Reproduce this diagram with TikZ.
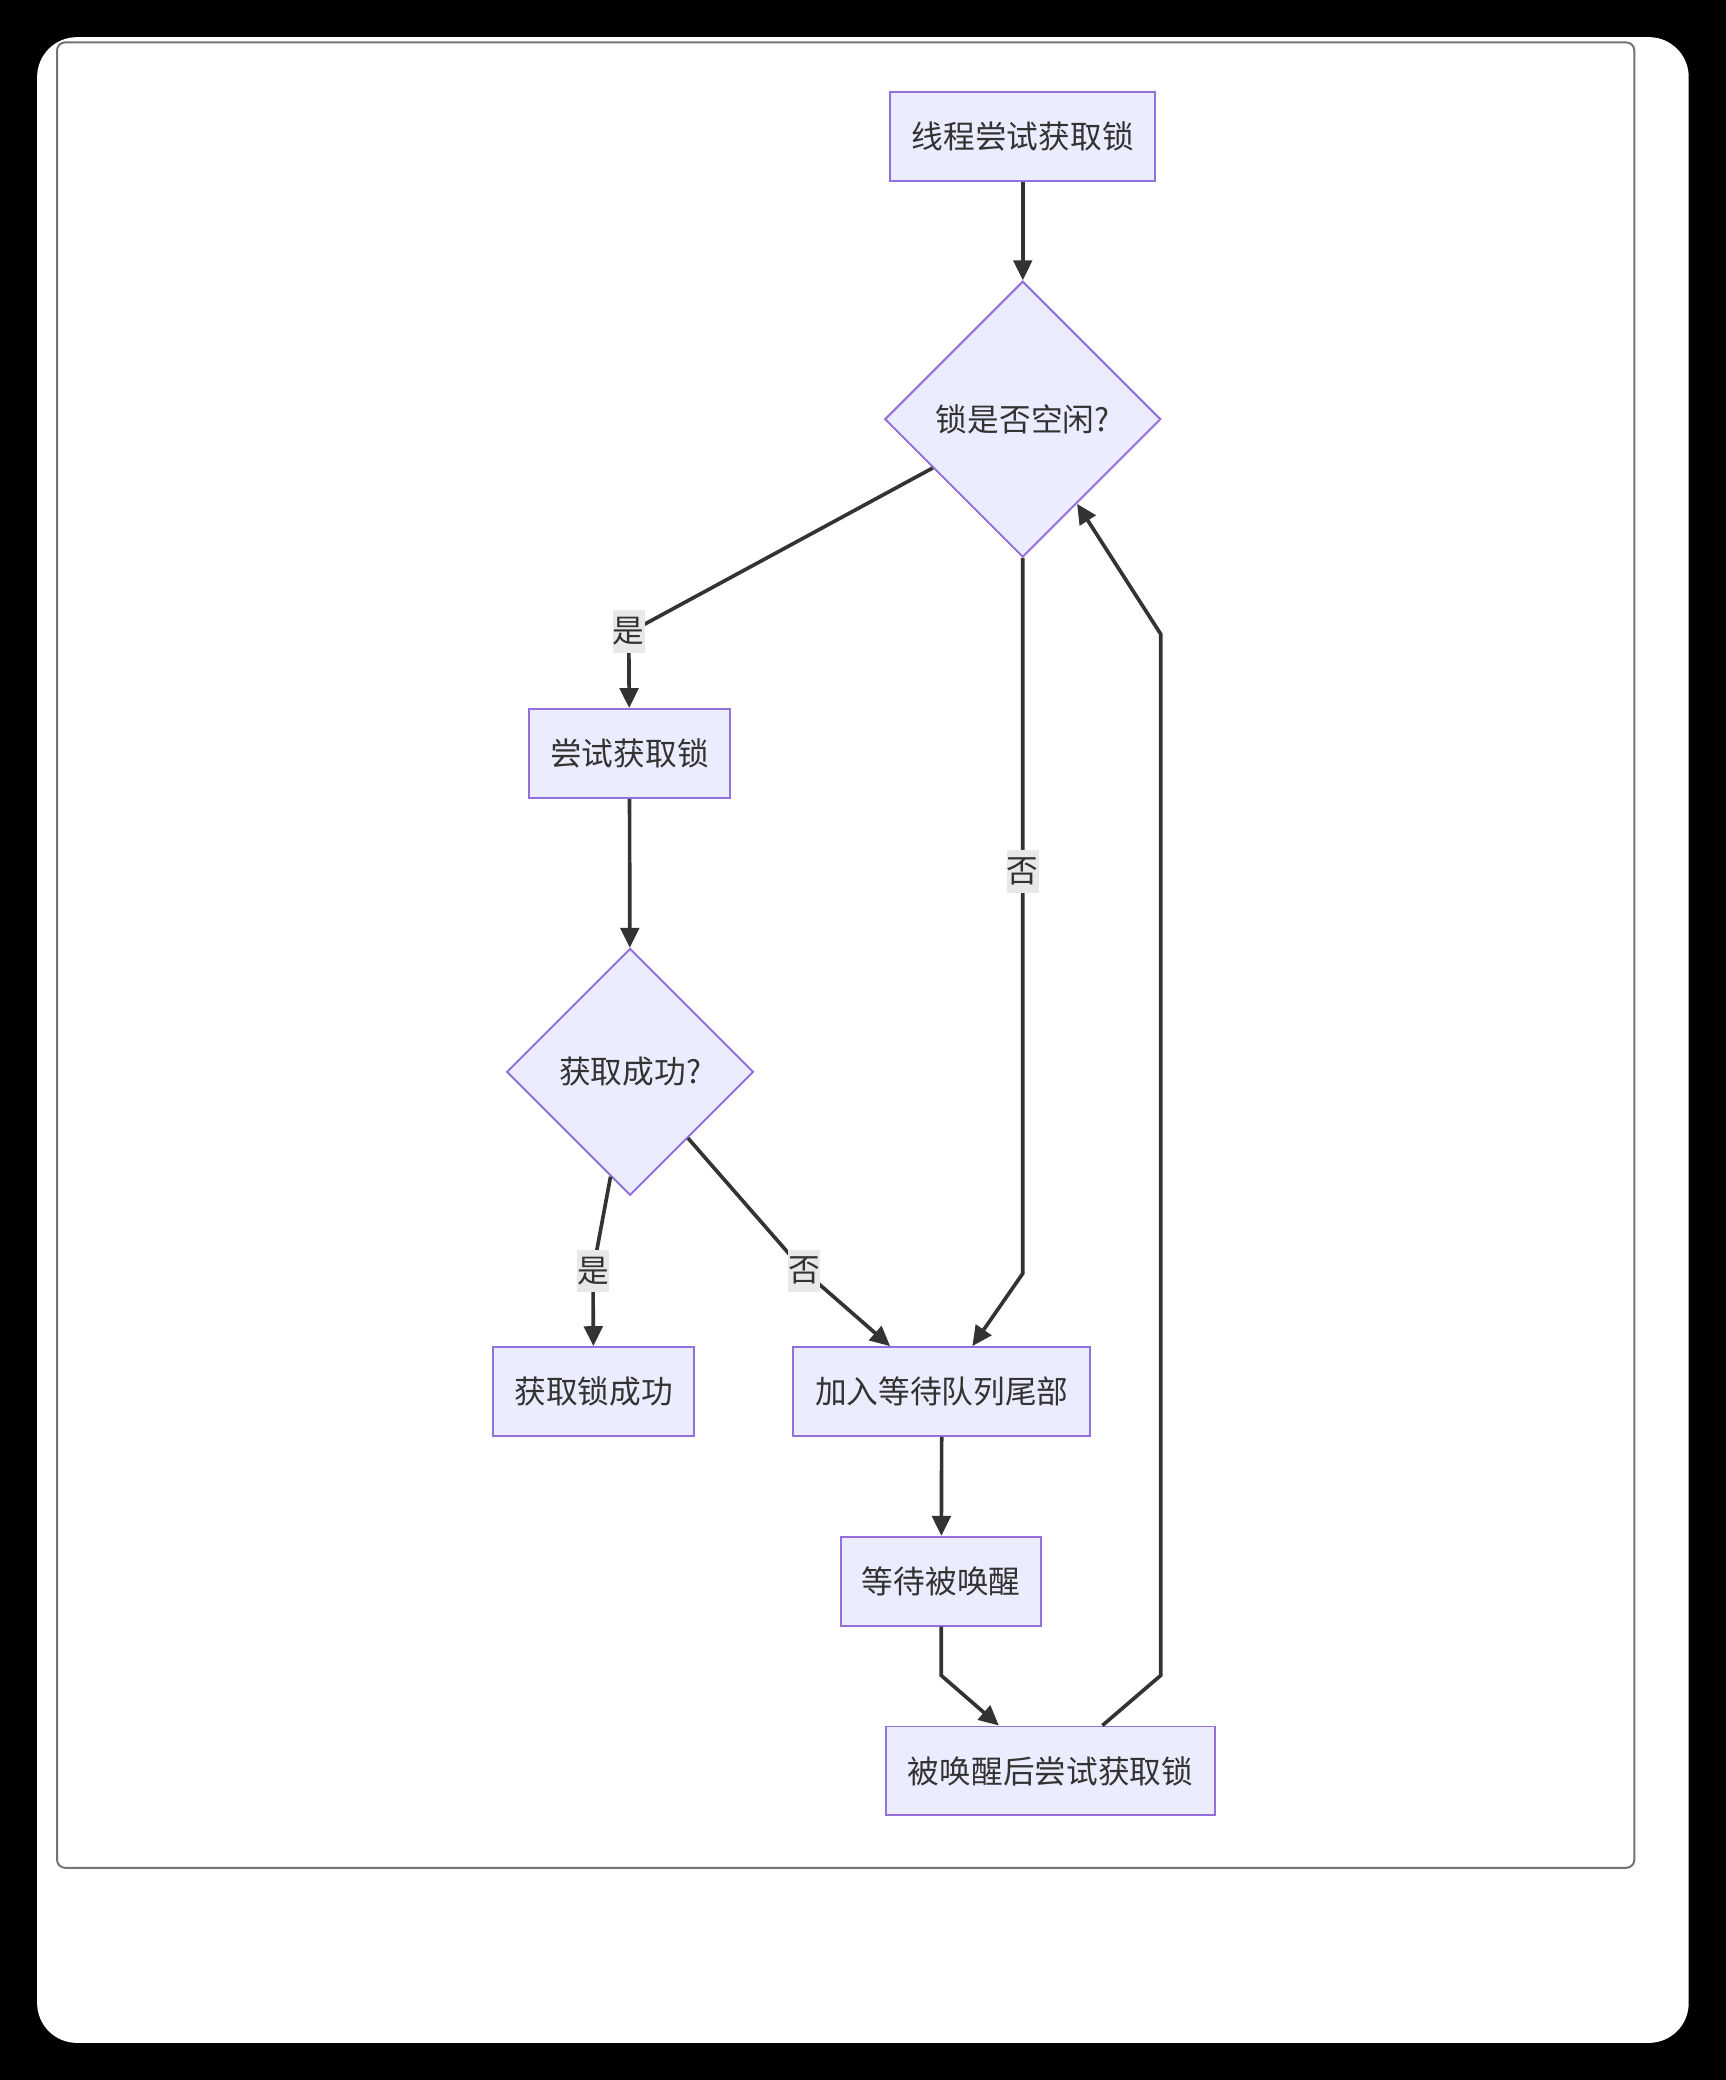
\documentclass[tikz,border=0pt]{standalone}
\usepackage{fontspec}
\newfontfamily\cjk{Noto Sans CJK SC}
\usetikzlibrary{arrows.meta,shapes.geometric}
\definecolor{boxfill}{HTML}{ECECFF}
\definecolor{boxline}{HTML}{9370DB}
\definecolor{edgeline}{HTML}{333333}
\definecolor{lblfill}{HTML}{E8E8E8}
\tikzset{
	box/.style={draw=boxline, fill=boxfill, line width=0.3mm, minimum height=13.4mm, inner sep=0pt, text=edgeline, font=\cjk\fontsize{13.6}{16}\selectfont},
	choice/.style={box, diamond, aspect=1},
	flow/.style={draw=edgeline, line width=0.55mm, -{Triangle[length=3mm,width=2.8mm]}},
	lbl/.style={fill=lblfill, inner xsep=0pt, inner ysep=0pt, minimum height=6.4mm, minimum width=4.8mm, text=edgeline, font=\cjk\fontsize{13.6}{16}\selectfont}
}
\def\edgelabel(#1)#2#3{\node[lbl] (#3) at (#1) {#2};}

\begin{document}
\begin{tikzpicture}[x=0.2mm,y=-0.2mm]
			%%%%% START %%%%%
			
			\useasboundingbox (0,0) rectangle (1301,1568);
			\fill[black] (0,0) rectangle (1301,1568);
			\fill[white, rounded corners=6mm] (28,28) rectangle (1273,1540);
			\draw[line width=0.3mm, color=black!55, rounded corners=1.2mm] (43,32) rectangle (1232,1408);
			
			\node[box, minimum width=40mm] (start) at (771,103) {线程尝试获取锁};
			\node[choice, minimum size=41.6mm] (isfree) at (771,316) {锁是否空闲?};
			\node[box, minimum width=30.2mm] (try) at (474.5,568) {尝试获取锁};
			\node[choice, minimum size=37.2mm] (gotit) at (475,808) {获取成功?};
			\node[box, minimum width=30.2mm] (success) at (447.5,1049) {获取锁成功};
			\node[box, minimum width=44.8mm] (enqueue) at (710,1049) {加入等待队列尾部};
			\node[box, minimum width=30.2mm] (wait) at (709.5,1192) {等待被唤醒};
			\node[box, minimum width=49.6mm] (retry) at (792,1335) {被唤醒后尝试获取锁};
			
			\draw[flow] (start) -- (isfree);
			\draw[flow] (isfree) -- (474,477) -- (try);
			\draw[flow] (isfree) -- (771,960) -- ([xshift=4.6mm]enqueue.north);
			\draw[flow] (try) -- (gotit);
			\draw[flow] (gotit) -- (447,958) -- (success);
			\draw[flow] (gotit) -- (606,958) -- ([xshift=-7.8mm]enqueue.north);
			\draw[flow] (enqueue) -- (wait);
			\draw[flow] (wait.south) -- (709.5,1263) -- ([xshift=-7.8mm]retry.north);
			\draw[flow] ([xshift=7.8mm]retry.north) -- (875,1263) -- (875,478) -- (isfree);
			
			\edgelabel(474,476){是}{yes1}
			\edgelabel(771,657){否}{no1}
			\edgelabel(447,958){是}{yes2}
			\edgelabel(606,958){否}{no2}
			
			%%%%% END %%%%%
\end{tikzpicture}
\end{document}
